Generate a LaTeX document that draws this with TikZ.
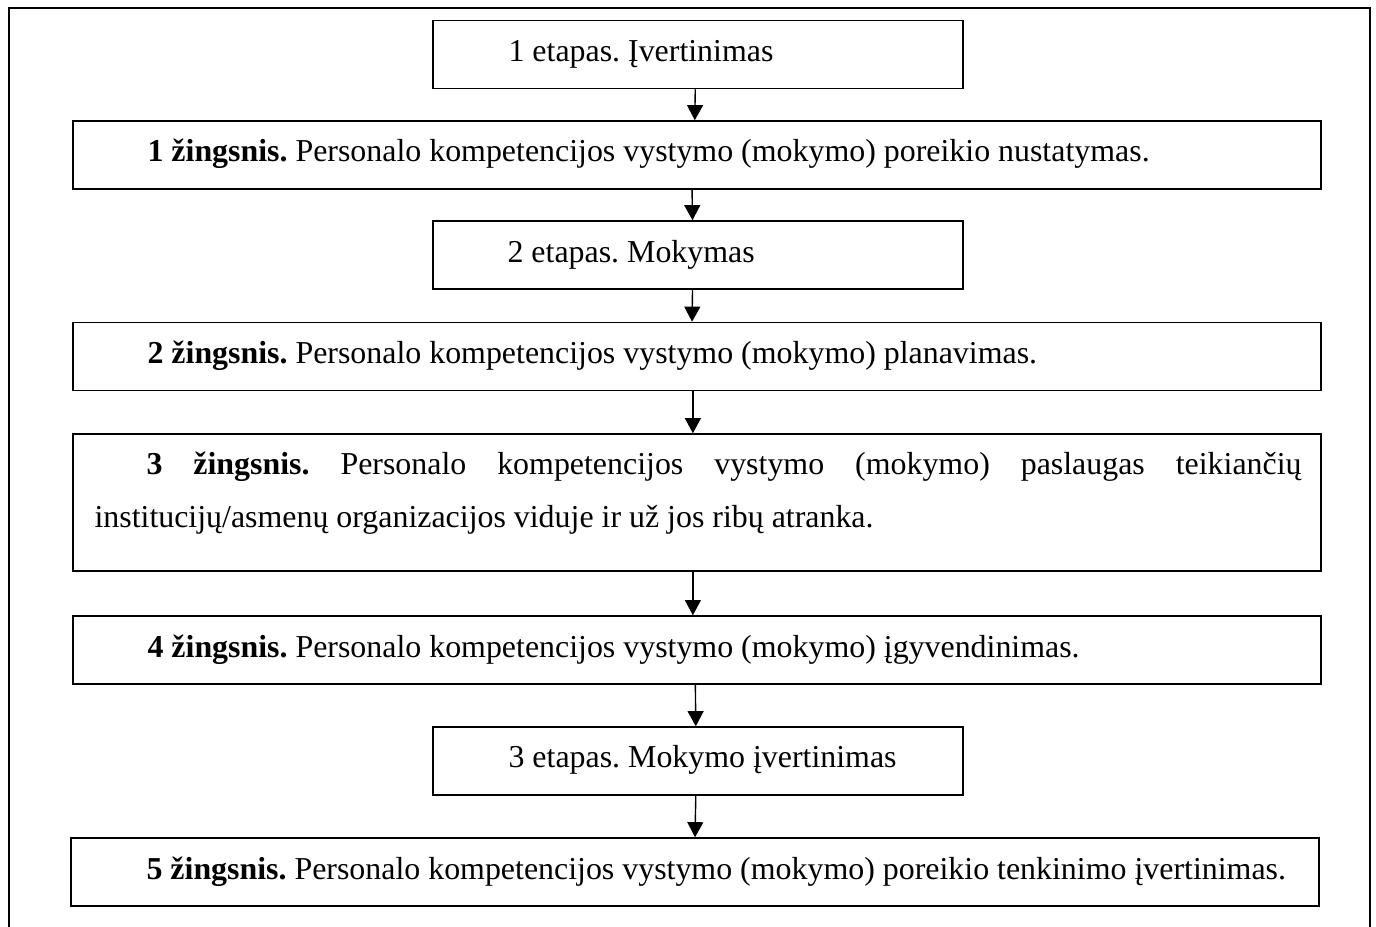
\documentclass[tikz,border=0pt]{standalone}
\usepackage{fontspec}
\setmainfont{Liberation Serif}
\usetikzlibrary{arrows.meta}
\newlength\pxu
\setlength\pxu{0.36364pt}
\frenchspacing
\tikzset{
  boxshape/.style={draw, line width=0.55pt, rectangle, inner sep=0pt, fill=white},
  etbox/.style={boxshape, minimum width=530\pxu, minimum height=68\pxu},
  zbox/.style={boxshape, minimum width=1248\pxu, minimum height=68\pxu},
  lbl/.style={anchor=base west, inner sep=0pt, font=\fontsize{11.6pt}{14pt}\selectfont\frenchspacing},
  arr/.style={line width=0.5pt, -{Triangle[length=5.5pt,width=5.8pt]}},
}
\begin{document}
\begin{tikzpicture}[x=\pxu, y=-\pxu]
\useasboundingbox (0,0) rectangle (1376,927);
% outer frame
\draw[line width=0.55pt] (9,940) -- (9,8) -- (1370,8) -- (1370,940);

% boxes
\node[etbox] (e1) at (698,54.5) {};
\node[zbox] (s1) at (697,155) {};
\node[etbox] (e2) at (698,255) {};
\node[zbox] (s2) at (697,356.5) {};
\node[zbox, minimum height=137\pxu] (s3) at (697,502.5) {};
\node[zbox] (s4) at (697,650) {};
\node[etbox] (e3) at (698,761) {};
\node[zbox] (s5) at (695,872) {};

% texts
\node[lbl] (te1) at (508,62) {1 etapas. Įvertinimas};
\node[lbl] (ts1) at (147,162) {\textbf{1 žingsnis.} Personalo kompetencijos vystymo (mokymo) poreikio nustatymas.};
\node[lbl] (te2) at (507,263) {2 etapas. Mokymas};
\node[lbl] (ts2) at (147,363) {\textbf{2 žingsnis.} Personalo kompetencijos vystymo (mokymo) planavimas.};
\node[lbl] (ts3a) at (146,475) {\makebox[1155\pxu][s]{\textbf{3 žingsnis.} Personalo kompetencijos vystymo (mokymo) paslaugas teikiančių}};
\node[lbl] (ts3b) at (94,527) {institucijų/asmenų organizacijos viduje ir už jos ribų atranka.};
\node[lbl] (ts4) at (147,657) {\textbf{4 žingsnis.} Personalo kompetencijos vystymo (mokymo) įgyvendinimas.};
\node[lbl] (te3) at (508,767) {3 etapas. Mokymo įvertinimas};
\node[lbl] (ts5) at (146,879) {\textbf{5 žingsnis.} Personalo kompetencijos vystymo (mokymo) poreikio tenkinimo įvertinimas.};

% arrows
\draw[arr] ([xshift=-1pt]e1.south) -- ([xshift=-0.8pt]s1.north);
\draw[arr] ([xshift=-1.8pt]s1.south) -- ([xshift=-2pt]e2.north);
\draw[arr] ([xshift=-2pt]e2.south) -- ([xshift=-1.8pt]s2.north);
\draw[arr] ([xshift=-1.5pt]s2.south) -- ([xshift=-1.5pt]s3.north);
\draw[arr] ([xshift=-1.5pt]s3.south) -- ([xshift=-1.5pt]s4.north);
\draw[arr] ([xshift=-0.6pt]s4.south) -- ([xshift=-0.8pt]e3.north);
\draw[arr] ([xshift=-0.8pt]e3.south) -- ([xshift=-0.0pt]s5.north);
\end{tikzpicture}
\end{document}
